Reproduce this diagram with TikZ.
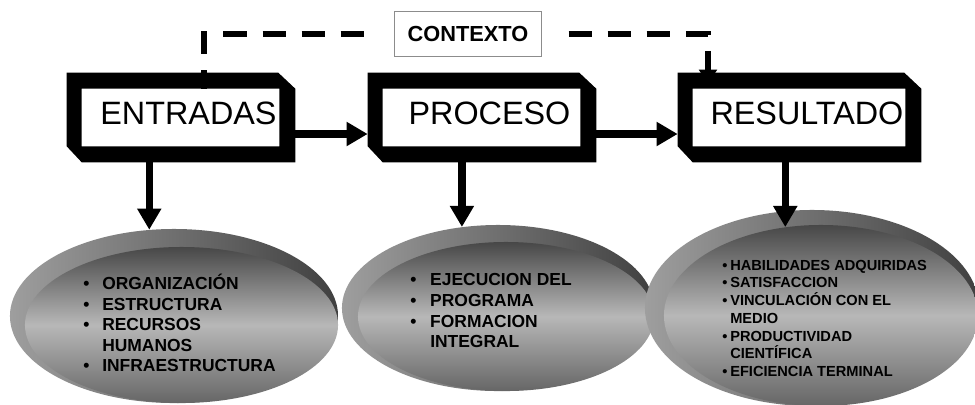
\documentclass[tikz,border=0pt]{standalone}
\usepackage{fontspec}
\setmainfont{Liberation Sans}
\usetikzlibrary{shapes.geometric, arrows.meta, calc}

% thick bevelled frame round a stage node
\newcommand{\stageframe}[1]{%
  \fill[even odd rule] (#1.north west) -- ($(#1.north east)+(-17,0)$) -- ($(#1.north east)+(0,16)$)
    -- (#1.south east) -- ($(#1.south west)+(15,0)$) -- ($(#1.south west)+(0,-16)$) -- cycle
    ($(#1.north west)+(15,16)$) rectangle ($(#1.south east)+(-16,-16)$);}
\newcommand{\itm}[1]{\makebox[#1][l]{\textbullet}}
\newcommand{\itmgap}[1]{\makebox[#1]{}}

\begin{document}
\begin{tikzpicture}[x=0.025cm, y=-0.025cm,
    stage/.style={minimum width=5.7cm, minimum height=2.225cm, inner sep=0pt, text depth=5.7pt,
      font=\fontsize{23}{23}\selectfont, execute at begin node=\hspace{10.6pt}},
    shell/.style={ellipse, inner sep=0pt, left color=black!38, right color=black!75},
    core/.style={ellipse, inner sep=0pt, top color=black!72, bottom color=black!60, middle color=black!28},
    items/.style={anchor=north west, inner sep=0pt, align=left, font=\bfseries\fontsize{12.4}{14.6}\selectfont},
    flow/.style={line width=5.3pt, -{Triangle[length=15pt, width=16.3pt]}},
    context/.style={line width=4.3pt, dash pattern=on 16.4pt off 11.4pt}]
  \useasboundingbox (0,0) rectangle (975,404);

  % stages
  \node[stage] (entradas) at (181,117.5) {ENTRADAS};
  \node[stage] (proceso) at (482,117.5) {PROCESO};
  \node[stage, minimum width=6.075cm] (resultado) at (799.5,117.5) {RESULTADO};
  \node[draw=black!45, line width=0.7pt, minimum width=3.65cm, minimum height=1.125cm,
    font=\bfseries\fontsize{15.5}{15.5}\selectfont] (contexto) at (468,34) {CONTEXTO};

  % context loop, under the frames
  \draw[context, dash phase=2.85pt, shorten >=12pt] ($(entradas.north)+(23,16)$) |- (contexto.west);
  \draw[context, dash phase=16.4pt, shorten <=7.8pt, -{Triangle[length=10pt, width=12.5pt]}]
    (contexto.east) -| ($(resultado.north)+(-91.5,11)$);

  \stageframe{entradas}
  \stageframe{proceso}
  \stageframe{resultado}

  \draw[flow] ($(entradas.east)+(0,16.5)$) -- ($(proceso.west)+(0,16.5)$);
  \draw[flow] ($(proceso.east)+(0,16.5)$) -- ($(resultado.west)+(0,16.5)$);

  % ellipses
  \node[shell, minimum width=8.2cm, minimum height=4.35cm] (insumos) at (174,316) {};
  \node[core, minimum width=7.825cm, minimum height=3.9cm] (insumoscore) at (181.5,325) {};
  \node[shell, minimum width=7.8cm, minimum height=4.15cm] (tareas) at (498,308) {};
  \node[core, minimum width=7.4cm, minimum height=3.725cm] (tareascore) at (506,316.5) {};
  \node[shell, minimum width=8.35cm, minimum height=4.9cm] (logros) at (812,308) {};
  \node[core, minimum width=7.85cm, minimum height=4.525cm] (logroscore) at (821,315.5) {};

  \draw[flow] (entradas.south -| insumos.106) -- (insumos.106);
  \draw[flow] (proceso.south -| tareas.114) -- (tareas.114);
  \draw[flow] (resultado.south -| logroscore.112) -- (logroscore.112);

  \node[items] (insumostxt) at (83,274) {\itm{13.5pt}ORGANIZACIÓN\\ \itm{13.5pt}ESTRUCTURA\\
    \itm{13.5pt}RECURSOS\\ \itmgap{13.5pt}HUMANOS\\ \itm{13.5pt}INFRAESTRUCTURA};
  \node[items] (tareastxt) at (410,273.5) {\itm{14.2pt}EJECUCION DEL\\ \itm{14.2pt}PROGRAMA\\
    \itm{14.2pt}FORMACION\\ \itmgap{14.2pt}INTEGRAL};
  \node[items, font=\bfseries\fontsize{10.4}{12.65}\selectfont] (logrostxt) at (722,259.5)
    {\itm{5.7pt}HABILIDADES ADQUIRIDAS\\ \itm{5.7pt}SATISFACCION\\ \itm{5.7pt}VINCULACIÓN CON EL\\
    \itmgap{5.7pt}MEDIO\\ \itm{5.7pt}PRODUCTIVIDAD\\ \itmgap{5.7pt}CIENTÍFICA\\ \itm{5.7pt}EFICIENCIA TERMINAL};
\end{tikzpicture}
\end{document}
